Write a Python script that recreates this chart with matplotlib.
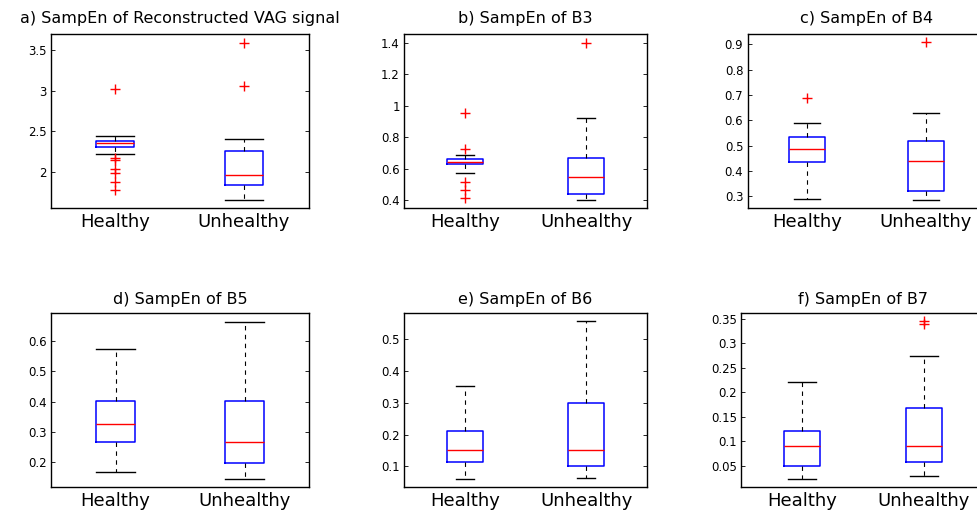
import matplotlib
matplotlib.use('Agg')
import matplotlib.pyplot as plt

plt.rcParams['font.family'] = ['DejaVu Sans']

groups = ['Healthy', 'Unhealthy']

titles = ['a) SampEn of Reconstructed VAG signal', 'b) SampEn of B3', 'c) SampEn of B4',
          'd) SampEn of B5', 'e) SampEn of B6', 'f) SampEn of B7']

# box summaries per panel: (whislo, q1, med, q3, whishi) for Healthy, Unhealthy
recon_vag = [(2.22, 2.30, 2.35, 2.38, 2.443), (1.65, 1.836, 1.963, 2.26, 2.40)]
b3 = [(0.575, 0.627, 0.644, 0.661, 0.689), (0.40, 0.442, 0.545, 0.67, 0.922)]
b4 = [(0.288, 0.434, 0.488, 0.533, 0.588), (0.285, 0.321, 0.438, 0.519, 0.630)]
b5 = [(0.166, 0.267, 0.326, 0.402, 0.575), (0.144, 0.198, 0.265, 0.402, 0.664)]
b6 = [(0.060, 0.113, 0.153, 0.210, 0.354), (0.062, 0.100, 0.153, 0.300, 0.557)]
b7 = [(0.0235, 0.0506, 0.091, 0.122, 0.222), (0.0295, 0.059, 0.0915, 0.169, 0.274)]

# outliers per panel, Healthy then Unhealthy
recon_vag_out = [[3.02, 2.17, 2.14, 2.04, 1.99, 1.87, 1.775], [3.59, 3.055]]
b3_out = [[0.956, 0.722, 0.512, 0.463, 0.413], [1.396]]
b4_out = [[0.687], [0.909]]
b5_out = [[], []]
b6_out = [[], []]
b7_out = [[], [0.3466, 0.339]]

panels = [recon_vag, b3, b4, b5, b6, b7]
outliers = [recon_vag_out, b3_out, b4_out, b5_out, b6_out, b7_out]

ylims = [(1.553, 3.70), (0.35, 1.455), (0.254, 0.941),
         (0.117, 0.693), (0.035, 0.583), (0.007, 0.362)]
yticks = [[2, 2.5, 3, 3.5], [0.4, 0.6, 0.8, 1, 1.2, 1.4],
          [0.3, 0.4, 0.5, 0.6, 0.7, 0.8, 0.9],
          [0.2, 0.3, 0.4, 0.5, 0.6], [0.1, 0.2, 0.3, 0.4, 0.5],
          [0.05, 0.1, 0.15, 0.2, 0.25, 0.3, 0.35]]
ytick_labels = [['2', '2.5', '3', '3.5'], ['0.4', '0.6', '0.8', '1', '1.2', '1.4'],
                ['0.3', '0.4', '0.5', '0.6', '0.7', '0.8', '0.9'],
                ['0.2', '0.3', '0.4', '0.5', '0.6'], ['0.1', '0.2', '0.3', '0.4', '0.5'],
                ['0.05', '0.1', '0.15', '0.2', '0.25', '0.3', '0.35']]

W, H = 977, 511
# axes rectangles in pixels: left, top, width, height
rects = [(50.5, 34, 258, 174), (404, 34, 243, 174), (747.5, 34, 238, 174),
         (51, 313, 258, 174), (404, 313, 243, 174), (741, 313, 244, 174)]
cap_frac = [1.0, 0.5, 0.75, 1.0, 0.5, 0.75]
title_pad = [8, 8, 8, 6.5, 6.5, 6.5]

fig = plt.figure(figsize=(W / 100, H / 100), dpi=100)

for i in range(6):
    l, t, w, h = rects[i]
    ax = fig.add_axes([l / W, 1 - (t + h) / H, w / W, h / H])
    stats = []
    for j, (lo, q1, med, q3, hi) in enumerate(panels[i]):
        stats.append(dict(whislo=lo, q1=q1, med=med, q3=q3, whishi=hi,
                          fliers=outliers[i][j], label=groups[j]))
    ax.bxp(stats, positions=[1, 2], widths=0.3, capwidths=0.3 * cap_frac[i],
           boxprops=dict(color='blue', lw=1.1),
           medianprops=dict(color='red', lw=1.0),
           whiskerprops=dict(color='black', lw=0.8, linestyle=(0, (4, 4))),
           capprops=dict(color='black', lw=1.0),
           flierprops=dict(marker='+', markeredgecolor='red', markersize=7,
                           markeredgewidth=1.0, linestyle='none'))
    ax.set_xlim(0.5, 2.5)
    ax.set_ylim(*ylims[i])
    ax.set_yticks(yticks[i])
    ax.set_yticklabels(ytick_labels[i], fontsize=8.5)
    ax.tick_params(axis='y', direction='in', length=3, width=0.6, right=True, pad=3)
    ax.tick_params(axis='x', length=0, labelsize=13, pad=3.5)
    for s in ax.spines.values():
        s.set_linewidth(1.0)
    ax.set_title(titles[i], fontsize=11.5, pad=title_pad[i])

fig.savefig('out.png', dpi=100)
